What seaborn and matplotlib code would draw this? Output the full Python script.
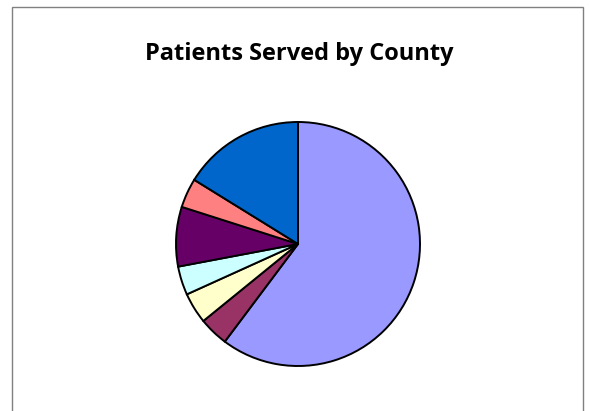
import numpy as np
import seaborn as sns
import matplotlib.pyplot as plt
from matplotlib.patches import Rectangle

# slice shares (percent), read clockwise from 12 o'clock
counties = ["County 1", "County 2", "County 3", "County 4", "County 5", "County 6", "County 7"]
shares = [60.3, 3.9, 4.1, 3.8, 7.9, 3.9, 16.2]
slice_colors = ["#9999FF", "#993366", "#FFFFCC", "#CCFFFF", "#660066", "#FF8080", "#0066CC"]

sns.set_theme(style="white")
plt.rcParams['font.family'] = ['Open Sans', 'DejaVu Sans']

fig = plt.figure(figsize=(5.9, 4.11), dpi=100)
W, H = 590, 411

# chart area border (open at the bottom, runs off the image)
fig.add_artist(Rectangle((12 / W, -0.05), (583 - 12) / W, 1.05 - 7 / H,
                         transform=fig.transFigure, fill=False,
                         edgecolor="#808080", linewidth=1.0))

cx, cy, r = 298, 244, 122
ax = fig.add_axes([(cx - r) / W, (H - cy - r) / H, 2 * r / W, 2 * r / H])
ax.pie(shares, colors=sns.color_palette(slice_colors), startangle=90,
       counterclock=False, radius=1,
       wedgeprops=dict(edgecolor="black", linewidth=1.4, clip_on=False))
ax.set_xlim(-1, 1)
ax.set_ylim(-1, 1)
ax.set_aspect("equal")
ax.axis("off")

fig.text(299 / W, 1 - 54 / H, "Patients Served by County", ha="center", va="center",
         fontsize=17, fontweight="bold", color="black")

fig.savefig("out.png", dpi=100)
